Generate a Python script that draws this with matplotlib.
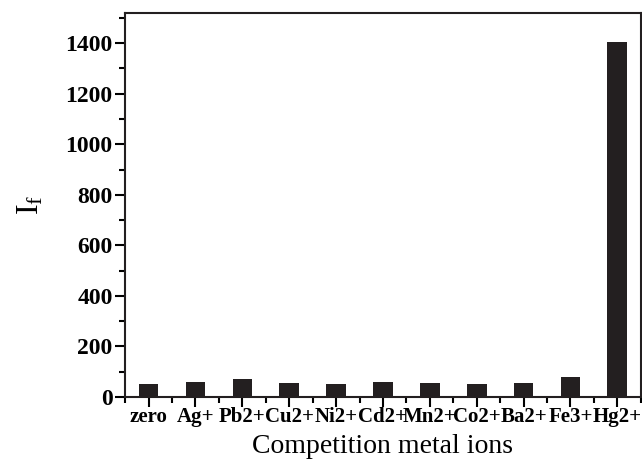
import matplotlib
matplotlib.use("Agg")
import matplotlib.pyplot as plt
from matplotlib.ticker import MultipleLocator, FixedLocator
import numpy as np

ions = ['zero', 'Ag+', 'Pb2+', 'Cu2+', 'Ni2+', 'Cd2+', 'Mn2+', 'Co2+', 'Ba2+', 'Fe3+', 'Hg2+']
intensity = [53, 61, 71, 55, 50, 58, 54, 50, 54, 79, 1405]

plt.rcParams['font.family'] = 'Liberation Serif'
plt.rcParams['mathtext.fontset'] = 'custom'
plt.rcParams['mathtext.rm'] = 'Liberation Serif'

fig = plt.figure(figsize=(6.42, 4.61), dpi=100)
ax = fig.add_axes([0.195, 0.139, 0.803, 0.833])

x = np.arange(len(ions))
ax.bar(x, intensity, width=0.42, color='#231f20')

ax.set_xlim(-0.5, 10.5)
ax.set_ylim(0, 1520)
ax.set_xticks(x)
ax.set_xticklabels(ions, fontweight='bold', fontsize=15)
ax.xaxis.set_minor_locator(FixedLocator(np.arange(-0.5, 11, 1)))
ax.yaxis.set_major_locator(MultipleLocator(200))
ax.yaxis.set_minor_locator(MultipleLocator(100))
for lab in ax.get_yticklabels():
    lab.set_fontweight('bold')
    lab.set_fontsize(17)

ax.tick_params(which='major', direction='out', length=7, width=1.5)
ax.tick_params(which='minor', direction='out', length=4, width=1.5)
ax.tick_params(axis='x', which='major', pad=0.5)
ax.tick_params(axis='y', which='major', pad=2)
ax.tick_params(top=False, right=False, which='both')
for s in ax.spines.values():
    s.set_linewidth(1.5)
    s.set_color('#231f20')

ax.set_xlabel('Competition metal ions', fontsize=20, labelpad=5)
ax.set_ylabel(r'$\mathrm{I_f}$', fontsize=23, labelpad=14)

fig.savefig('out.png', dpi=100)
